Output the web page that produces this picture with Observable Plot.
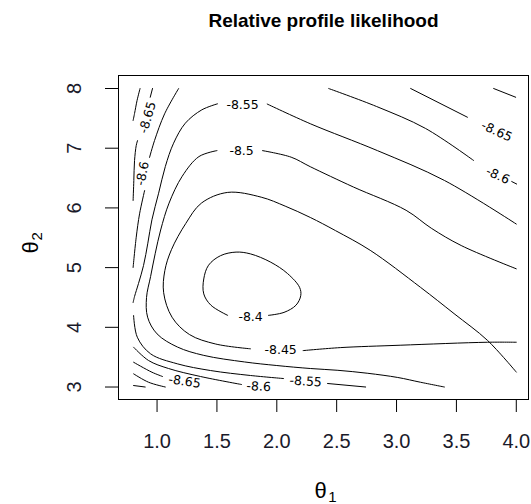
<!DOCTYPE html>
<html><head><meta charset="utf-8">
<script src="https://cdn.jsdelivr.net/npm/d3@7"></script>
<script src="https://cdn.jsdelivr.net/npm/@observablehq/plot@0.6"></script>
<style>body{margin:0;background:#fff} svg{display:block}</style>
</head><body><div id="chart"></div>
<script>
// Axis ticks
const xTicks = [1.0, 1.5, 2.0, 2.5, 3.0, 3.5, 4.0];
const yTicks = [3, 4, 5, 6, 7, 8];

// Contour line pieces [theta1, theta2]
const c840  = [[1.93,4.20],[2.06,4.25],[2.16,4.37],[2.20,4.53],[2.19,4.67],[2.09,4.90],[1.95,5.09],[1.78,5.23],[1.66,5.26],[1.53,5.20],[1.43,5.04],[1.39,4.81],[1.39,4.56],[1.45,4.37],[1.59,4.20]];
const c845a = [[4.00,3.25],[3.76,3.78],[3.48,4.23],[3.20,4.67],[2.78,5.29],[2.49,5.62],[2.28,5.84],[2.07,6.03],[1.87,6.18],[1.59,6.26],[1.37,6.08],[1.24,5.74],[1.12,5.30],[1.065,4.95],[1.055,4.58],[1.125,4.17],[1.27,3.88],[1.49,3.72],[1.78,3.64]];
const c845b = [[2.22,3.61],[2.53,3.66],[3.03,3.70],[3.76,3.75],[4.00,3.75]];
const c850a = [[4.00,4.98],[3.54,5.37],[3.29,5.66],[3.08,5.96],[2.64,6.35],[2.28,6.69],[2.12,6.85],[1.88,6.96]];
const c850b = [[1.50,6.96],[1.35,6.86],[1.21,6.53],[1.10,6.08],[1.03,5.63],[0.985,5.24],[0.946,4.85],[0.912,4.50],[0.921,4.17],[1.00,3.89],[1.17,3.67],[1.39,3.53],[1.73,3.42],[2.00,3.36],[2.28,3.31],[2.51,3.28],[2.76,3.23],[3.01,3.16],[3.20,3.08],[3.40,3.00]];
const c855a = [[4.00,5.73],[3.40,6.46],[2.84,6.96],[2.28,7.41],[1.92,7.74]];
const c855b = [[1.505,7.744],[1.374,7.643],[1.236,7.419],[1.138,7.084],[1.069,6.693],[1.013,6.246],[0.957,5.801],[0.923,5.409],[0.887,5.035],[0.845,4.734],[0.812,4.516],[0.800,4.415]];
const c855c = [[0.804,4.198],[0.835,3.834],[0.946,3.556],[1.169,3.389],[1.447,3.276],[1.781,3.193],[2.057,3.142]];
const c855d = [[2.424,3.059],[2.742,3.00]];
const c860a = [[1.180,8.00],[1.063,7.576],[0.979,7.129],[0.937,6.844]];
const c860b = [[0.896,6.291],[0.854,5.901],[0.826,5.509],[0.800,5.002]];
const c860c = [[2.433,8.00],[2.834,7.698],[3.243,7.330],[3.644,6.794]];
const c860d = [[3.962,6.442],[4.003,6.400]];
const c860e = [[0.804,3.667],[0.929,3.444],[1.096,3.310],[1.363,3.176],[1.706,3.042]];
const c865a = [[0.962,8.00],[0.943,7.854]];
const c865b = [[0.837,7.129],[0.826,7.045],[0.812,6.794],[0.806,6.459],[0.800,6.124]];
const c865c = [[3.118,8.00],[3.592,7.519]];
const c865d = [[0.804,3.415],[0.957,3.248],[1.046,3.176]];
const c870a = [[0.858,8.00],[0.833,7.799],[0.812,7.581],[0.800,7.464]];
const c870b = [[3.811,8.00],[3.995,7.854]];
const c870c = [[0.804,3.221],[0.929,3.080],[1.069,3.00]];
const c875  = [[0.804,3.025],[0.901,3.00]];

// Contour labels
const labelText = ["-8.4", "-8.45", "-8.5", "-8.55", "-8.55", "-8.6", "-8.6", "-8.6", "-8.65", "-8.65", "-8.65"];
const labelX    = [1.781, 2.032, 1.706, 1.714, 2.241, 0.879, 3.845, 1.848, 0.921, 3.836, 1.230];
const labelY    = [4.173, 3.628, 6.961, 7.732, 3.092, 6.576, 6.543, 3.008, 7.514, 7.280, 3.092];
const labelAngle = [0, 0, 0, 0, 4, -78, 25, 3, -74, 25, 8];

const pieces = {c840, c845a, c845b, c850a, c850b, c855a, c855b, c855c, c855d,
  c860a, c860b, c860c, c860d, c860e, c865a, c865b, c865c, c865d, c870a, c870b, c870c, c875};
const rows = Object.entries(pieces).flatMap(([k, pts]) => pts.map(([x, y]) => ({x, y, piece: k})));
const labels = labelText.map((t, i) => ({t, x: labelX[i], y: labelY[i], r: labelAngle[i]}));

const font = "Liberation Sans, Arial, Helvetica, sans-serif";
const plot = Plot.plot({
  width: 531, height: 504,
  marginLeft: 118, marginRight: 3, marginTop: 75, marginBottom: 105,
  x: {domain: [0.678, 4.102]},
  y: {domain: [2.791, 8.218]},
  style: {fontFamily: font, background: "#fff", color: "#000"},
  marks: [
    Plot.frame({stroke: "#000", strokeWidth: 1}),
    Plot.axisX(xTicks, {tickSize: 13, tickFormat: () => "", label: null, stroke: "#000"}),
    Plot.axisY(yTicks, {tickSize: 13, tickFormat: () => "", label: null, stroke: "#000"}),
    Plot.text(xTicks, {x: d => d, frameAnchor: "bottom", dy: 42, text: d => d.toFixed(1), fontSize: 20, lineAnchor: "middle", fill: "#1a1a2a"}),
    Plot.text(yTicks, {y: d => d, frameAnchor: "left", dx: -44, rotate: -90, text: d => String(d), fontSize: 20, lineAnchor: "middle", textAnchor: "middle", fill: "#1a1a2a"}),
    Plot.line(rows, {x: "x", y: "y", z: "piece", stroke: "#000", strokeWidth: 1, curve: "catmull-rom"}),
    Plot.text(labels, {x: "x", y: "y", text: "t", rotate: "r", fontSize: 12.5, fontFamily: "DejaVu Sans", lineAnchor: "middle", fill: "#000", ariaLabel: "contour-labels"}),
    Plot.text(["Relative profile likelihood"], {frameAnchor: "top", dy: -55, fontWeight: "bold", fontSize: 19, lineAnchor: "middle"}),
    Plot.text(["θ"], {frameAnchor: "bottom", dx: -3, dy: 91, fontSize: 22, lineAnchor: "middle"}),
    Plot.text(["1"], {frameAnchor: "bottom", dx: 9, dy: 98, fontSize: 15, lineAnchor: "middle"}),
    Plot.text(["θ"], {frameAnchor: "left", dx: -88, dy: 16, rotate: -90, fontSize: 22, lineAnchor: "middle"}),
    Plot.text(["2"], {frameAnchor: "left", dx: -81, dy: 3, rotate: -90, fontSize: 15, lineAnchor: "middle"})
  ]
});
d3.select(plot).selectAll('g[aria-label="contour-labels"] text').style("letter-spacing", "1.3px").style("font-weight", "200");
document.getElementById("chart").appendChild(plot);
</script>
</body></html>
